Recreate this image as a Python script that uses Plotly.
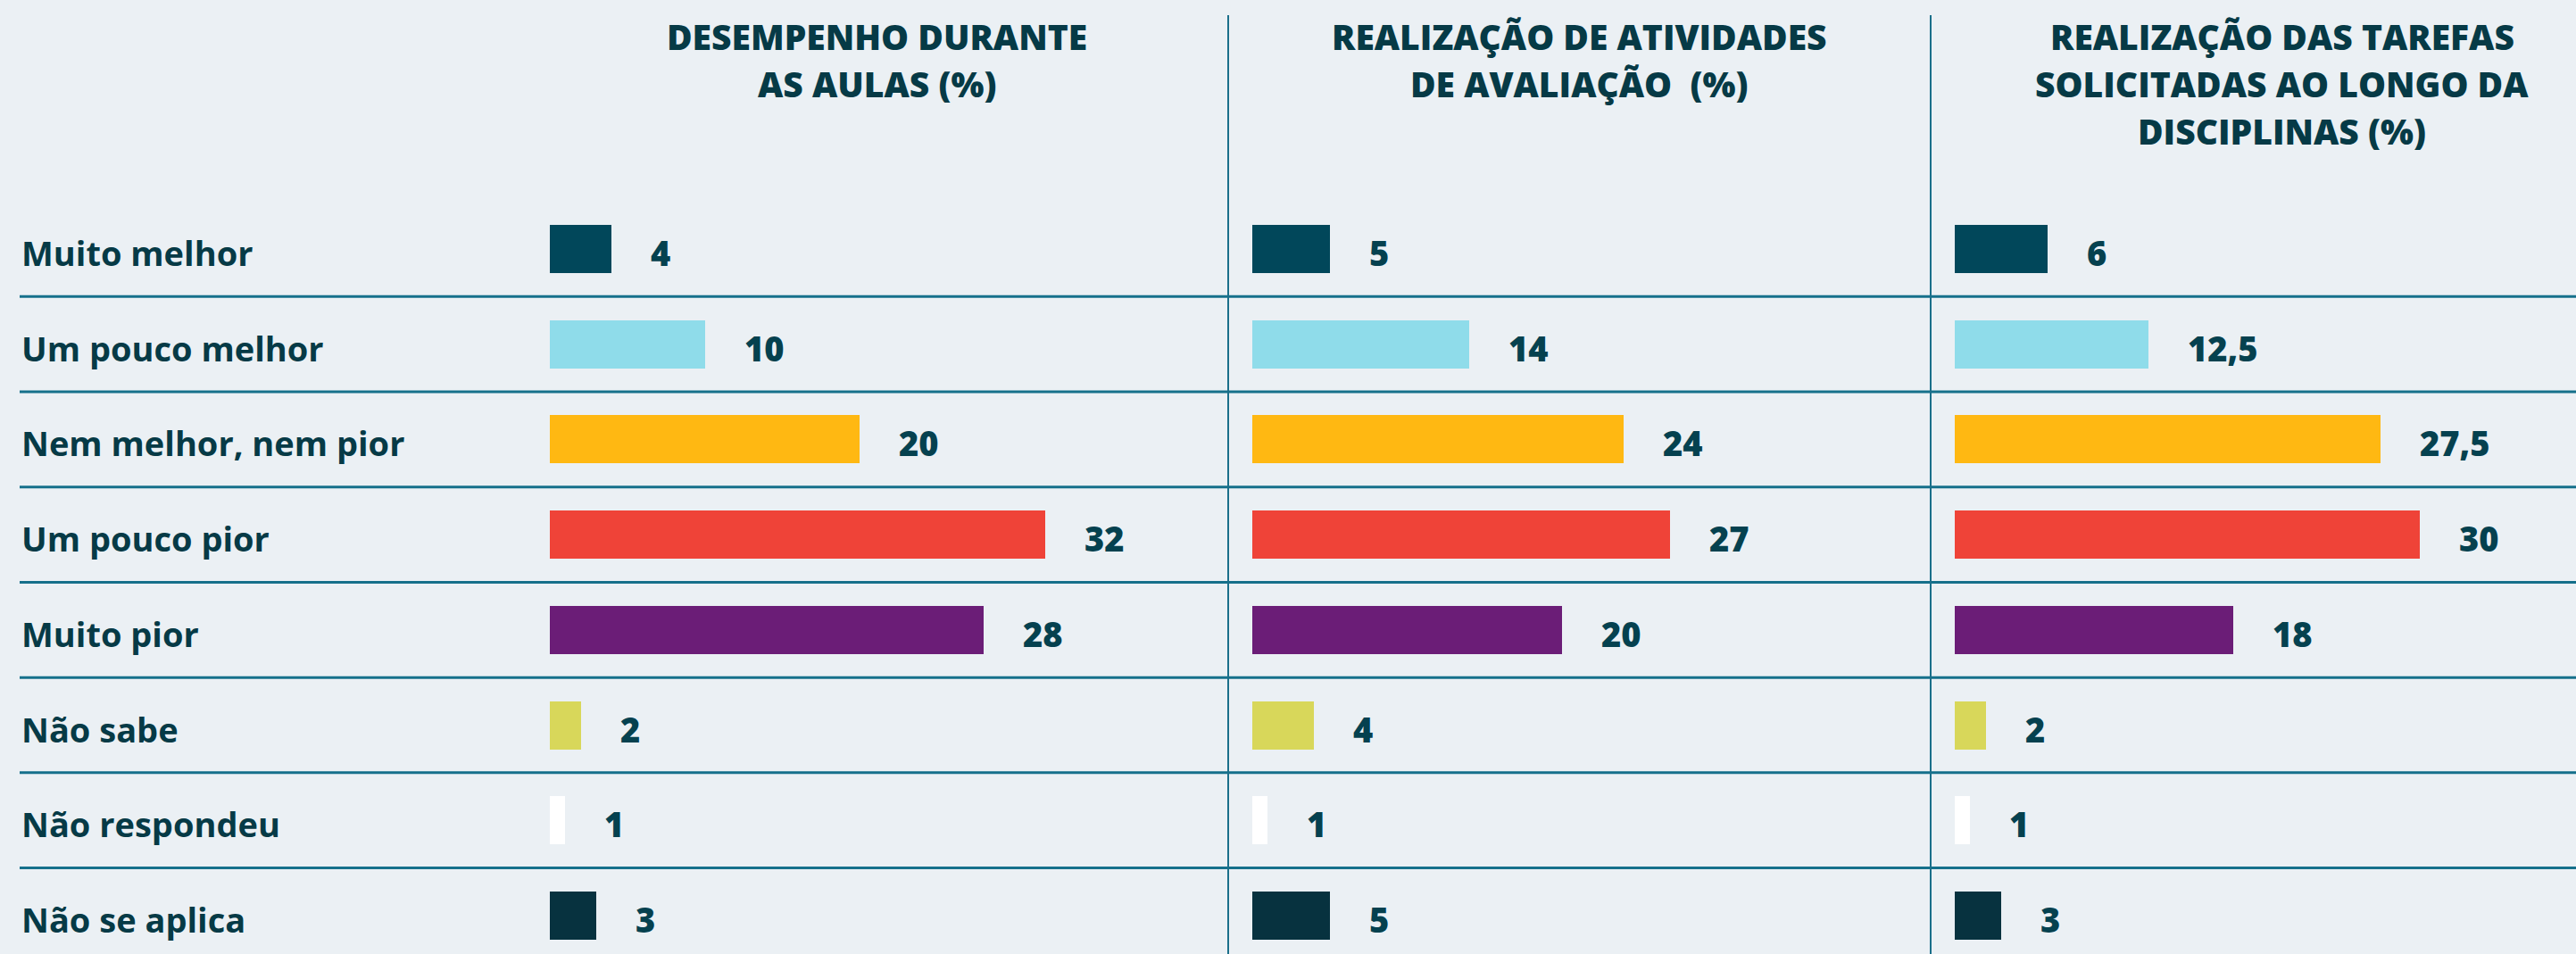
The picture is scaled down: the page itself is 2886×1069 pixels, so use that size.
import plotly.graph_objects as go

categories = ["Muito melhor", "Um pouco melhor", "Nem melhor, nem pior", "Um pouco pior",
              "Muito pior", "Não sabe", "Não respondeu", "Não se aplica"]
desempenho = [4, 10, 20, 32, 28, 2, 1, 3]
avaliacao = [5, 14, 24, 27, 20, 4, 1, 5]
tarefas = [6, 12.5, 27.5, 30, 18, 2, 1, 3]
headers = [
    ["DESEMPENHO DURANTE", "AS AULAS (%)"],
    ["REALIZAÇÃO DE ATIVIDADES", "DE AVALIAÇÃO  (%)"],
    ["REALIZAÇÃO DAS TAREFAS", "SOLICITADAS AO LONGO DA", "DISCIPLINAS (%)"],
]
colors = ["#01475a", "#8fdcea", "#ffb812", "#ef4338", "#6b1d77", "#d8d75a", "#ffffff", "#07323f"]

W, H = 2886, 1069
BG = "#ebf0f4"
TXT = "#063a46"
FONT = "Open Sans"
col_start = [589, 1376, 2163]
col_w = 787
bar_off = 27
ppu = 17.35
row0, pitch = 279, 106.7

series = [desempenho, avaliacao, tarefas]

def fmt(v):
    return ("%g" % v).replace(".", ",")

fig = go.Figure()
annotations = []
shapes = []
for k, vals in enumerate(series):
    xa = "x" if k == 0 else "x%d" % (k + 1)
    fig.add_trace(go.Bar(
        x=vals, y=categories, orientation="h", xaxis=xa, yaxis="y",
        marker=dict(color=colors, line=dict(width=0)), width=54 / pitch,
        hoverinfo="skip", showlegend=False,
    ))
    d0 = col_start[k] / W
    d1 = min(col_start[k] + col_w, W) / W
    dom_px = min(col_start[k] + col_w, W) - col_start[k]
    r0 = -bar_off / ppu
    r1 = r0 + dom_px / ppu
    key = "xaxis" if k == 0 else "xaxis%d" % (k + 1)
    fig.layout[key] = dict(domain=[d0, d1], range=[r0, r1], anchor="y",
                           showgrid=False, zeroline=False, showticklabels=False,
                           showline=False, fixedrange=True)
    for c, v in zip(categories, vals):
        annotations.append(dict(x=v, y=c, xref=xa, yref="y", text=fmt(v), showarrow=False,
                                xanchor="left", yanchor="middle", xshift=42, yshift=-4,
                                font=dict(family=FONT, size=38, color="#05414f", weight=800)))
    cx = (col_start[k] + col_w / 2) / W
    for j, line in enumerate(headers[k]):
        cy = 40 + j * 53
        annotations.append(dict(x=cx, y=1 - cy / H, xref="paper", yref="paper", text=line,
                                showarrow=False, xanchor="center", yanchor="middle",
                                font=dict(family=FONT, size=39, color=TXT, weight=800)))

for c in categories:
    annotations.append(dict(x=22 / W, y=c, xref="paper", yref="y", text=c, showarrow=False,
                            xanchor="left", yanchor="middle", yshift=-4,
                            font=dict(family=FONT, size=38, color=TXT, weight=700)))

for i in range(len(categories) - 1):
    shapes.append(dict(type="line", xref="paper", yref="y", x0=22 / W, x1=1,
                       y0=i + 0.5, y1=i + 0.5, line=dict(color="#15708b", width=3)))
for xp in col_start[1:]:
    shapes.append(dict(type="line", xref="paper", yref="paper", x0=xp / W, x1=xp / W,
                       y0=0, y1=1 - 17 / H, line=dict(color="#1a6f8a", width=2)))

top_idx = -row0 / pitch
bot_idx = (H - row0) / pitch
fig.update_layout(
    width=W, height=H, margin=dict(l=0, r=0, t=0, b=0),
    paper_bgcolor=BG, plot_bgcolor=BG,
    yaxis=dict(type="category", categoryarray=categories, range=[bot_idx, top_idx],
               domain=[0, 1], showgrid=False, zeroline=False, showticklabels=False,
               showline=False, fixedrange=True),
    annotations=annotations, shapes=shapes, bargap=0,
)
fig.write_html("out.html", config={"displayModeBar": False},
               post_script="document.body.style.margin='0';document.body.style.overflow='hidden';")
